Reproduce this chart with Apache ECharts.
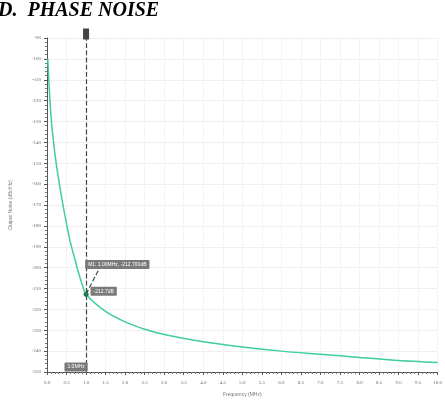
<!DOCTYPE html>
<html><head><meta charset="utf-8">
<script src="https://cdn.jsdelivr.net/npm/echarts@6/dist/echarts.min.js"></script>
<style>html,body{margin:0;padding:0;background:#fff}#t{position:absolute;left:-2px;top:-2px;font:italic bold 20px "Liberation Serif","Times New Roman",serif;color:#000;white-space:pre}#c{width:445px;height:402px}</style>
</head><body>
<div id="c"></div>
<div id="t">D.  PHASE NOISE</div>
<script>
const freqs = [0.02,0.1,0.2,0.3,0.4,0.5,0.6,0.7,0.8,0.9,1.0,1.5,2.0,2.5,3.0,4.0,5.0,6.0,7.0,8.0,9.0,10.0];
const noise = [-100,-127,-145,-158,-169,-179,-188,-195,-202,-208,-212.7,-221,-226,-229.5,-232,-235.5,-238,-240,-241.5,-243,-244.5,-245.5];
const markerFreq = 1.0;
const markerNoise = -212.7;
const markerText = "1.0MHz";
const pointText = "-212.7dB";
const infoText = "M1: 1.00MHz, -212.700dB";
const infoAt = [1.8, -198.5];
const leaderEnd = [1.35, -200];
const xName = "Frequency (MHz)";
const yName = "Output Noise (dBc/Hz)";

const chart = echarts.init(document.getElementById('c'));
const lbl = {fontSize:5, color:'#666', fontFamily:'Liberation Serif'};
chart.setOption({
  animation:false,
  grid:{left:47, right:7, top:38, bottom:24},
  xAxis:{type:'value', min:0, max:10, interval:0.5,
    name:xName, nameLocation:'middle', nameGap:20, nameTextStyle:{fontSize:5,color:'#777'},
    axisLine:{lineStyle:{color:'#555',width:1}},
    axisTick:{lineStyle:{color:'#555'},length:3},
    minorTick:{show:true,splitNumber:5,length:2,lineStyle:{color:'#777'}},
    axisLabel:Object.assign({formatter:v=>v.toFixed(1),margin:8},lbl),
    splitLine:{show:true,lineStyle:{color:'#f3f3f3',width:1}}},
  yAxis:{type:'value', min:-250, max:-90, interval:10,
    name:yName, nameLocation:'middle', nameGap:34, nameTextStyle:{fontSize:5,color:'#777'},
    axisLine:{show:true,lineStyle:{color:'#555',width:1}},
    axisTick:{show:true,lineStyle:{color:'#555'},length:3},
    minorTick:{show:true,splitNumber:5,length:2,lineStyle:{color:'#777'}},
    axisLabel:Object.assign({margin:6},lbl),
    splitLine:{show:true,lineStyle:{color:'#efefef',width:1}}},
  series:[{
    type:'line', smooth:0.25, showSymbol:false,
    data:freqs.map((f,i)=>[f,noise[i]]),
    lineStyle:{color:'#3fcf97',width:1.5},
    markLine:{silent:true, animation:false,
      data:[
        [{coord:[markerFreq,-250],symbol:'none'},{coord:[markerFreq,-90],symbol:'rect',symbolSize:[6,11],symbolOffset:[0,-4],
          itemStyle:{color:'#333'}}],
        [{coord:[markerFreq,markerNoise],symbol:'none'},{coord:leaderEnd,symbol:'none'}]
      ],
      lineStyle:{color:'#444',type:'dashed',width:1.2},
      label:{show:false}},
    markPoint:{silent:true, animation:false,
      data:[
        {coord:[markerFreq,markerNoise],symbol:'circle',symbolSize:5,itemStyle:{color:'#1f7a4d'},
          label:{show:true,formatter:pointText,position:'right',distance:2,offset:[0,-3],fontSize:5,color:'#fff',backgroundColor:'#7a7a7a',padding:[2,3],borderRadius:1}},
        {coord:infoAt,symbol:'circle',symbolSize:1,itemStyle:{color:'transparent'},
          label:{show:true,formatter:infoText,position:'inside',fontSize:5,color:'#fff',backgroundColor:'#7a7a7a',padding:[2,3],borderRadius:1}},
        {coord:[markerFreq,-250],symbol:'circle',symbolSize:1,itemStyle:{color:'transparent'},
          label:{show:true,formatter:markerText,position:'inside',offset:[-10,-5],fontSize:5,color:'#fff',backgroundColor:'#7a7a7a',padding:[2,3],borderRadius:1}}
      ]}
  }]
});
</script>
</body></html>
